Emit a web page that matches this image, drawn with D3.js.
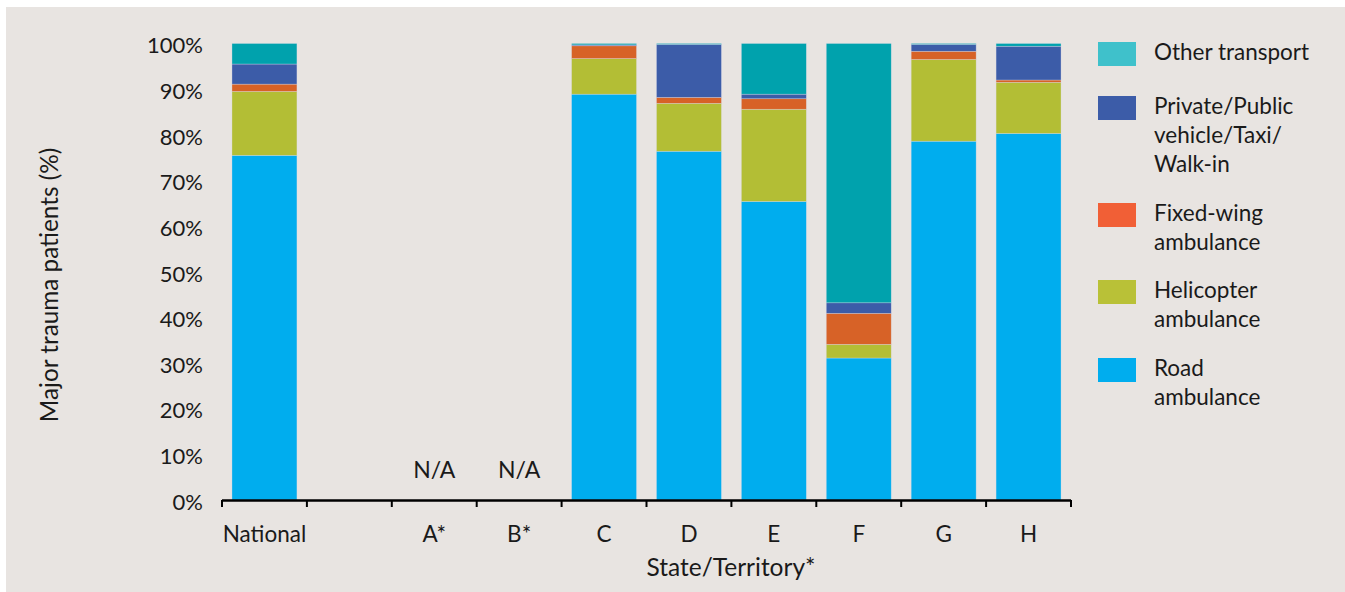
<!DOCTYPE html>
<html>
<head>
<meta charset="utf-8">
<script src="https://cdn.jsdelivr.net/npm/d3@7"></script>
<style>
  html, body { margin: 0; padding: 0; background: #ffffff; }
  svg { display: block; }
  text { font-family: Lato, "Open Sans", sans-serif; fill: #1a1a1a; }
</style>
</head>
<body>
<svg id="chart" width="1345" height="592"></svg>
<script>
// Categories along the x axis (the blank slot separates National from the states)
const categories = ["National", "", "A*", "B*", "C", "D", "E", "F", "G", "H"];
const noData = ["A*", "B*"];

// Share of major trauma patients (%) by mode of arrival
const road       = [75.5, null, null, null, 88.9, 76.4, 65.4, 31.1, 78.6, 80.3];
const helicopter = [14.0, null, null, null,  7.8, 10.5, 20.2,  3.0, 17.9, 11.2];
const fixedWing  = [ 1.6, null, null, null,  2.8,  1.3,  2.3,  6.8,  1.8,  0.5];
const privateVeh = [ 4.4, null, null, null,  0.2, 11.6,  1.0,  2.3,  1.5,  7.4];
const other      = [ 4.5, null, null, null,  0.3,  0.2, 11.1, 56.8,  0.2,  0.6];

const seriesKeys   = ["road", "helicopter", "fixedWing", "privateVeh", "other"];
const seriesLabels = [
  ["Road", "ambulance"],
  ["Helicopter", "ambulance"],
  ["Fixed-wing", "ambulance"],
  ["Private/Public", "vehicle/Taxi/", "Walk-in"],
  ["Other transport"]
];
const barColors    = ["#00adee", "#b3be35", "#d76227", "#3c5ca8", "#00a2ad"];
const legendColors = ["#00adee", "#b9c137", "#f15f36", "#3c5ca8", "#3fc1cb"];

const yTicks = [0, 10, 20, 30, 40, 50, 60, 70, 80, 90, 100];

const table = categories.map((c, i) => ({
  category: c,
  idx: i,
  road: road[i] || 0,
  helicopter: helicopter[i] || 0,
  fixedWing: fixedWing[i] || 0,
  privateVeh: privateVeh[i] || 0,
  other: other[i] || 0,
  hasData: road[i] != null
}));

const svg = d3.select("#chart");

// panel background
svg.append("rect")
  .attr("x", 6).attr("y", 7)
  .attr("width", 1345 - 6).attr("height", 592 - 7)
  .attr("fill", "#e8e4e1");

const x = d3.scaleBand()
  .domain(d3.range(categories.length))
  .range([222, 1071])
  .paddingInner(0.235)
  .paddingOuter(0.1175);

const y = d3.scaleLinear().domain([0, 100]).range([500, 43.5]);

const layers = d3.stack().keys(seriesKeys)(table.filter(d => d.hasData));

// stacked bars
const g = svg.append("g");
layers.forEach((layer, li) => {
  g.selectAll(null)
    .data(layer)
    .join("rect")
    .attr("x", d => x(d.data.idx))
    .attr("width", x.bandwidth())
    .attr("y", d => y(d[1]))
    .attr("height", d => Math.max(0, y(d[0]) - y(d[1])))
    .attr("fill", barColors[li])
    .attr("stroke", "rgba(220,220,235,0.55)")
    .attr("stroke-width", 0.6);
});

// N/A markers
svg.selectAll(".na")
  .data(noData)
  .join("text")
  .attr("class", "na")
  .attr("x", d => x(categories.indexOf(d)) + x.bandwidth() / 2)
  .attr("y", 478)
  .attr("text-anchor", "middle")
  .attr("font-size", 23)
  .text("N/A");

// y axis: labels only
const yAxis = d3.axisLeft(y)
  .tickValues(yTicks)
  .tickFormat(d => d + "%")
  .tickSize(0)
  .tickPadding(0);
const yg = svg.append("g").attr("transform", "translate(203,0)").call(yAxis);
yg.select(".domain").remove();
yg.selectAll("text")
  .attr("font-size", 22)
  .attr("font-family", "Lato, sans-serif")
  .attr("fill", "#1a1a1a")
  .attr("dy", "0.42em");

// x axis: line with boundary ticks between categories
const xAxisLine = svg.append("g");
xAxisLine.append("line")
  .attr("x1", x.range()[0]).attr("x2", x.range()[1])
  .attr("y1", 500.5).attr("y2", 500.5)
  .attr("stroke", "#000").attr("stroke-width", 2.5);
const boundaries = d3.range(categories.length + 1).map(i => x.range()[0] + i * x.step());
xAxisLine.selectAll(".tk")
  .data(boundaries)
  .join("line")
  .attr("x1", d => d).attr("x2", d => d)
  .attr("y1", 500).attr("y2", 507)
  .attr("stroke", "#000").attr("stroke-width", 2);

// x tick labels
svg.selectAll(".xl")
  .data(categories)
  .join("text")
  .attr("class", "xl")
  .attr("x", (d, i) => x(i) + x.bandwidth() / 2)
  .attr("y", 542)
  .attr("text-anchor", "middle")
  .attr("font-size", 22.5)
  .text(d => d);

// axis titles
svg.append("text")
  .attr("x", 731).attr("y", 576)
  .attr("text-anchor", "middle")
  .attr("font-size", 24.5)
  .text("State/Territory*");

svg.append("text")
  .attr("transform", "translate(58,285) rotate(-90)")
  .attr("text-anchor", "middle")
  .attr("font-size", 24.3)
  .text("Major trauma patients (%)");

// legend, top item is "Other transport"
const legendOrder = [4, 3, 2, 1, 0];
const legendTops = [42, 96, 203, 280, 358];
const lg = svg.append("g");
legendOrder.forEach((si, k) => {
  const top = legendTops[k];
  lg.append("rect")
    .attr("x", 1098).attr("y", top)
    .attr("width", 38).attr("height", 24)
    .attr("fill", legendColors[si]);
  const t = lg.append("text")
    .attr("x", 1154).attr("y", top + 18)
    .attr("font-size", 22.5);
  seriesLabels[si].forEach((line, j) => {
    t.append("tspan")
      .attr("x", 1154)
      .attr("dy", j === 0 ? 0 : 29)
      .text(line);
  });
});
</script>
</body>
</html>
